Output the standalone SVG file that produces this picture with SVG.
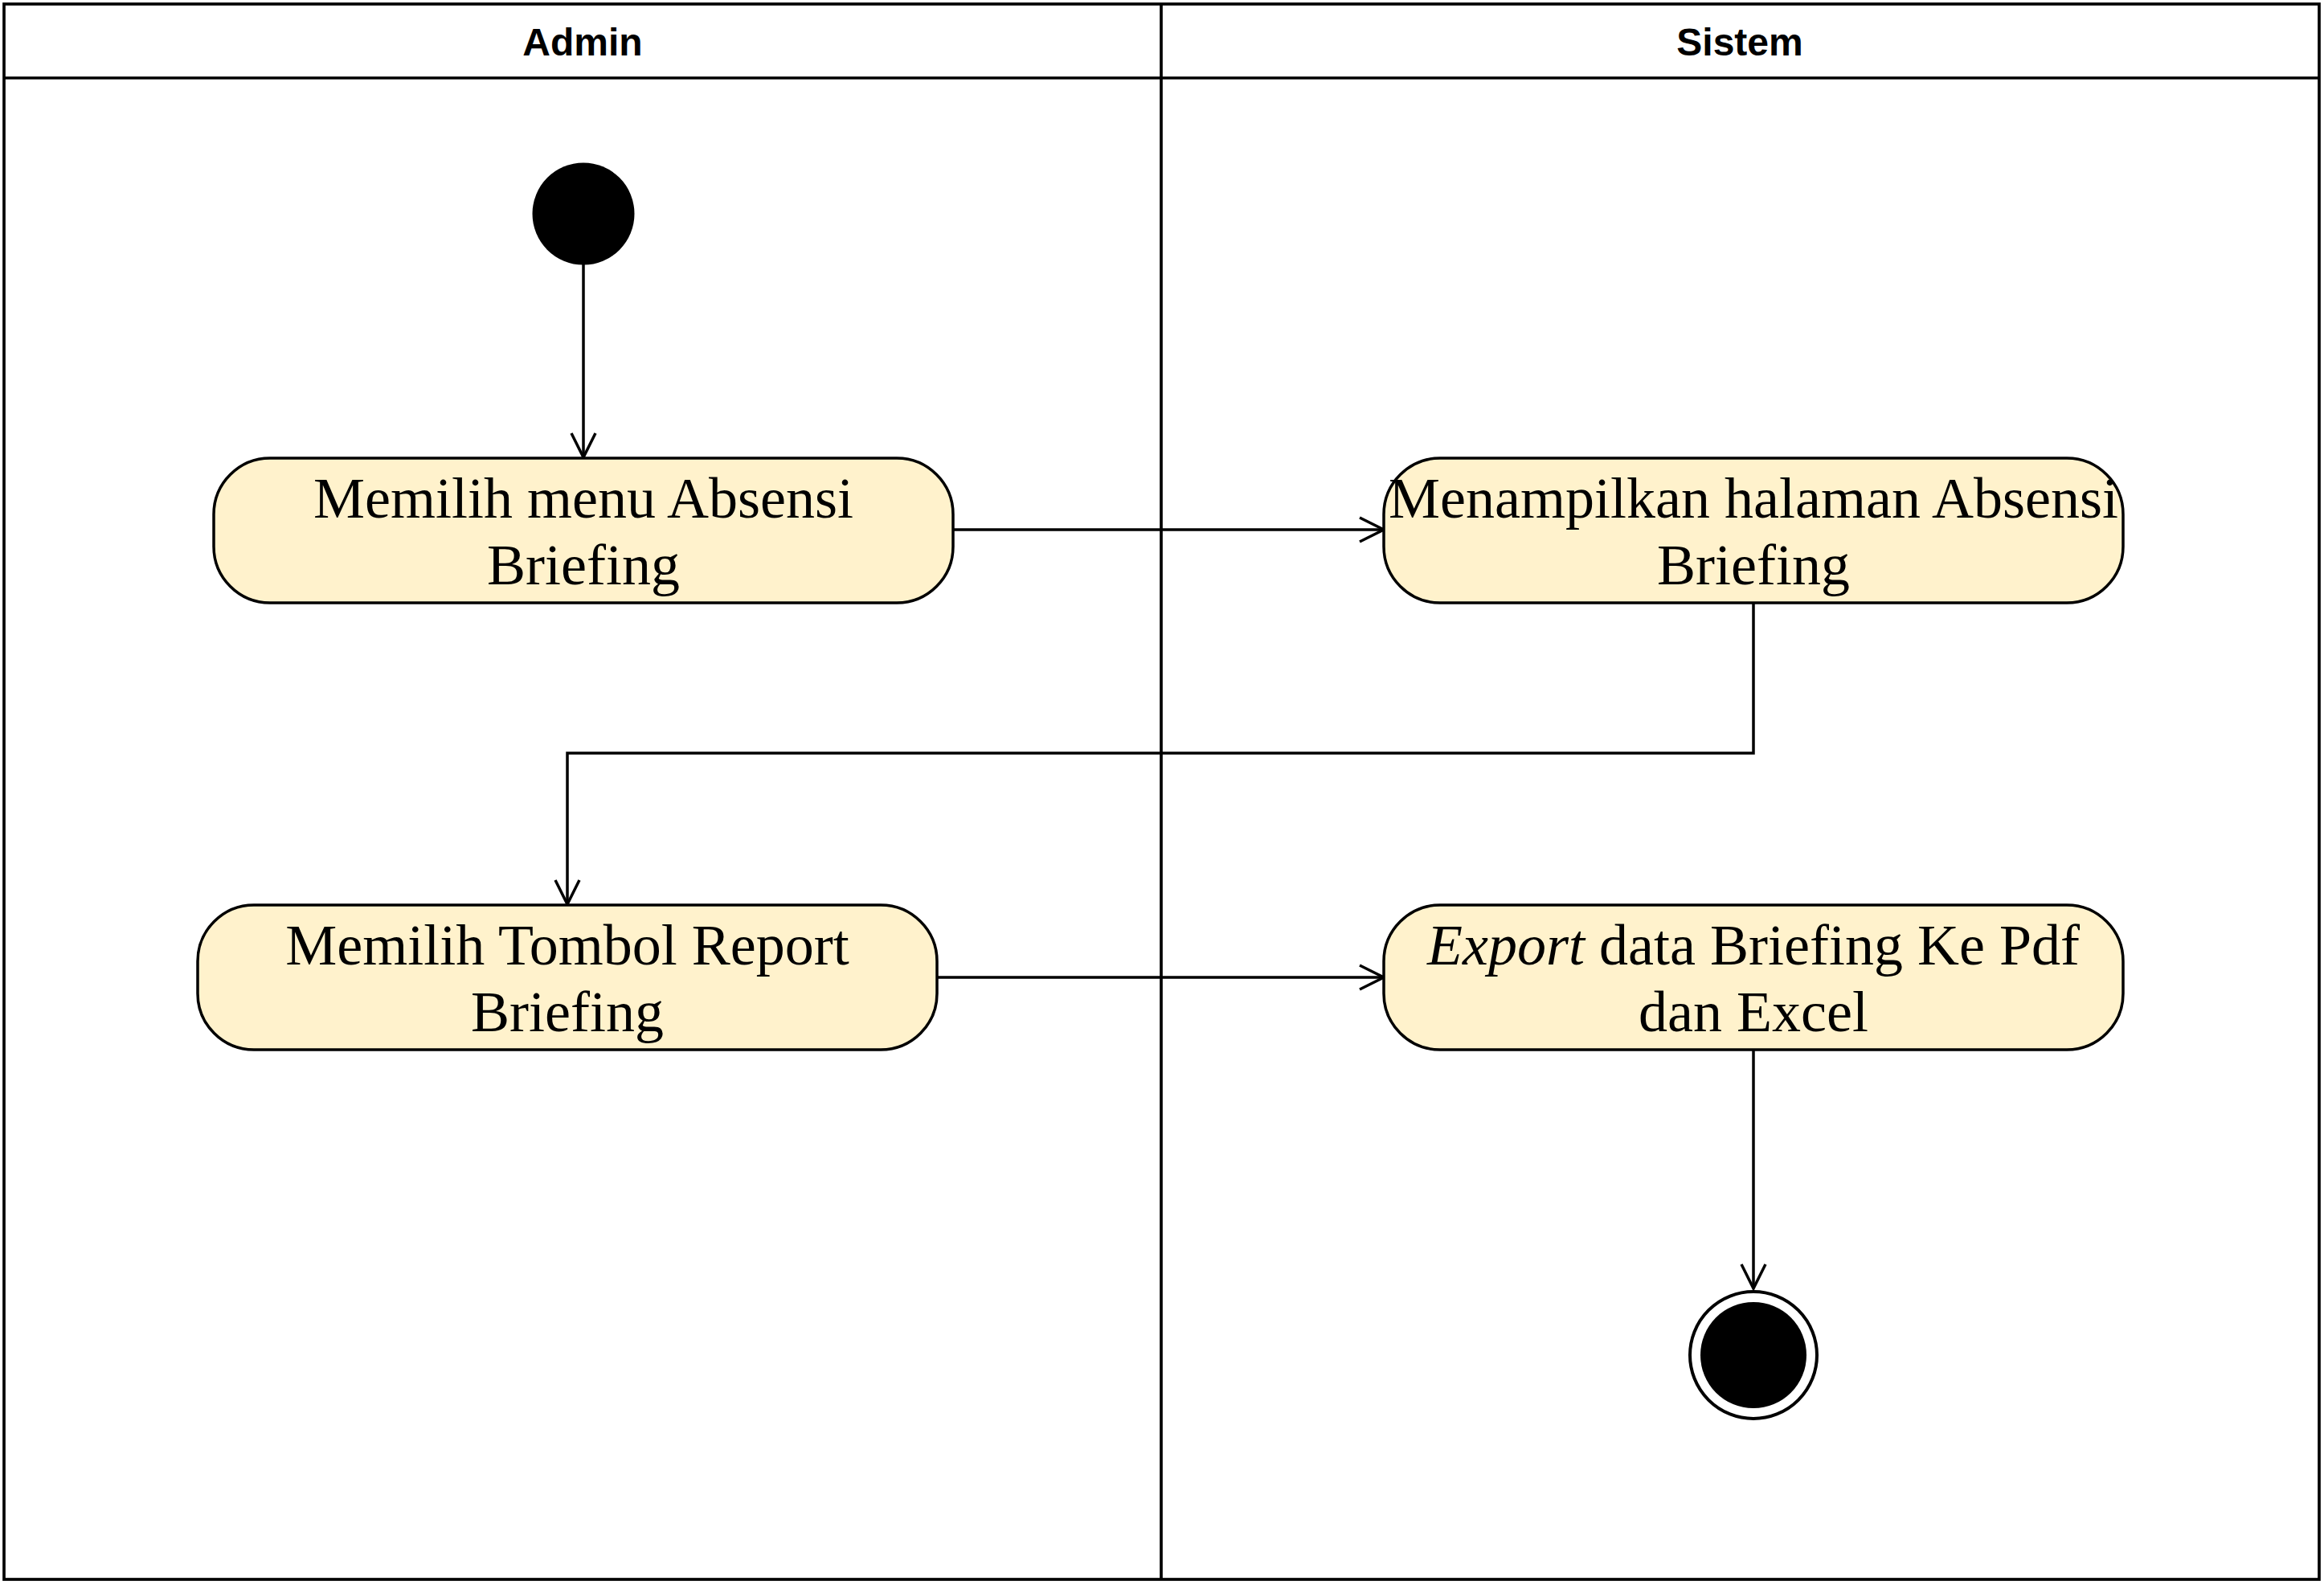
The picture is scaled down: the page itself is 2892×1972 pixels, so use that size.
<svg xmlns="http://www.w3.org/2000/svg" width="2892" height="1972" viewBox="0 0 2892 1972">
<style>
.lane{fill:none;stroke:#000;stroke-width:3.7}
.hdr{font-family:"Liberation Sans",Arial,sans-serif;font-weight:bold;font-size:48px;text-anchor:middle;fill:#000}
.act{fill:#fff2cc;stroke:#000;stroke-width:3.5}
.lbl{font-family:"Liberation Serif","Times New Roman",serif;font-size:72px;text-anchor:middle;fill:#000}
.edge{fill:none;stroke:#000;stroke-width:3.5;marker-end:url(#arr)}
</style>
<defs>
<marker id="arr" markerUnits="userSpaceOnUse" viewBox="-34 -18 36 36" markerWidth="36" markerHeight="36" refX="0" refY="0" orient="auto" overflow="visible">
<path d="M -30 -15 L 0 0 L -30 15" fill="none" stroke="#000" stroke-width="3.5"/>
</marker>
</defs>
<rect width="2892" height="1972" fill="#fff"/>
<g id="swimlane">
<rect class="lane" x="5" y="5" width="2881" height="1960"/>
<line class="lane" x1="5" y1="97" x2="2886" y2="97"/>
<line class="lane" x1="1445" y1="5" x2="1445" y2="1965"/>
<text class="hdr" x="725" y="69">Admin</text>
<text class="hdr" x="2165" y="69">Sistem</text>
</g>
<g id="connectors">
<path class="edge" d="M 726 329 L 726 569"/>
<path class="edge" d="M 1186 659 L 1722 659"/>
<path class="edge" d="M 2182 750 L 2182 937 L 706 937 L 706 1125"/>
<path class="edge" d="M 1166 1216 L 1722 1216"/>
<path class="edge" d="M 2182 1306 L 2182 1603"/>
</g>
<g id="start">
<circle cx="726" cy="266" r="63.5" fill="#000"/>
</g>
<g id="node1">
<rect class="act" x="266" y="570" width="920" height="180" rx="70" ry="70"/>
<text class="lbl" x="726" y="644">Memilih menu Absensi</text>
<text class="lbl" x="726" y="727">Briefing</text>
</g>
<g id="node2">
<rect class="act" x="1722" y="570" width="920" height="180" rx="70" ry="70"/>
<text class="lbl" x="2182" y="644">Menampilkan halaman Absensi</text>
<text class="lbl" x="2182" y="727">Briefing</text>
</g>
<g id="node3">
<rect class="act" x="246" y="1126" width="920" height="180" rx="70" ry="70"/>
<text class="lbl" x="706" y="1200">Memilih Tombol Report</text>
<text class="lbl" x="706" y="1283">Briefing</text>
</g>
<g id="node4">
<rect class="act" x="1722" y="1126" width="920" height="180" rx="70" ry="70"/>
<text class="lbl" x="2182" y="1200"><tspan font-style="italic">Export</tspan> data Briefing Ke Pdf</text>
<text class="lbl" x="2182" y="1283">dan Excel</text>
</g>
<g id="end">
<circle cx="2182" cy="1686" r="79" fill="#fff" stroke="#000" stroke-width="4"/>
<circle cx="2182" cy="1686" r="66" fill="#000"/>
</g>
</svg>
